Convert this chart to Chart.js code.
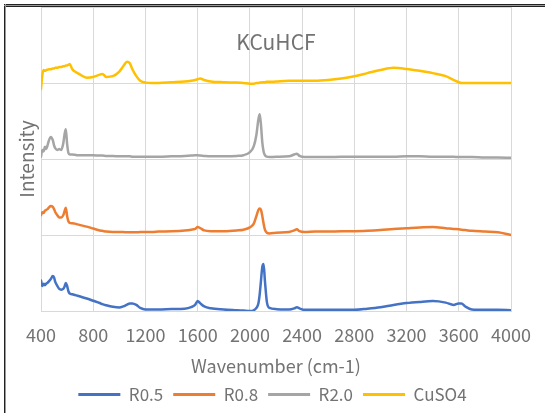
<!DOCTYPE html>
<html>
<head>
<meta charset="utf-8">
<script src="https://cdn.jsdelivr.net/npm/chart.js@4.4.0/dist/chart.umd.min.js"></script>
<style>
  html, body { margin: 0; padding: 0; background: #fff; }
  #wrap { width: 545px; height: 413px; position: relative; }
</style>
</head>
<body>
<div id="wrap"><canvas id="chart" width="545" height="413"></canvas></div>
<script>
// Raman shift grid (cm-1) shared by all spectra
const wavenumbers = [400, 410, 420, 430, 440, 450, 460, 475, 490, 500, 510, 525, 540, 555, 570, 580, 590, 600, 610, 620,
  640, 660, 680, 700, 750, 800, 850, 870, 900, 950, 1000, 1030, 1060, 1080, 1100, 1130, 1160, 1200, 1250, 1300,
  1400, 1500, 1550, 1580, 1600, 1620, 1650, 1700, 1800, 1900, 1950, 2000, 2030, 2050, 2065, 2075, 2085, 2095, 2105, 2115,
  2130, 2150, 2200, 2300, 2340, 2360, 2380, 2420, 2500, 2600, 2700, 2800, 2900, 3000, 3100, 3200, 3300, 3400, 3500, 3560,
  3600, 3620, 3650, 3700, 3800, 3900, 4000];

// Relative intensities of each sample
const r05 = [0.40, 0.33, 0.36, 0.34, 0.36, 0.37, 0.39, 0.42, 0.46, 0.44, 0.38, 0.33, 0.29, 0.28, 0.29, 0.32, 0.37, 0.33, 0.26, 0.23,
  0.22, 0.21, 0.20, 0.19, 0.165, 0.135, 0.105, 0.09, 0.075, 0.055, 0.045, 0.06, 0.085, 0.10, 0.10, 0.08, 0.04, 0.02, 0.02, 0.02,
  0.025, 0.03, 0.05, 0.08, 0.13, 0.10, 0.06, 0.035, 0.02, 0.01, 0.005, 0.0, 0.01, 0.04, 0.10, 0.22, 0.40, 0.58, 0.62, 0.40,
  0.12, 0.04, 0.025, 0.02, 0.035, 0.05, 0.035, 0.015, 0.015, 0.015, 0.015, 0.015, 0.03, 0.05, 0.08, 0.105, 0.12, 0.13, 0.11, 0.08,
  0.10, 0.10, 0.06, 0.02, 0.015, 0.015, 0.01];

const r08 = [0.26, 0.30, 0.29, 0.32, 0.33, 0.34, 0.36, 0.38, 0.37, 0.34, 0.30, 0.26, 0.23, 0.23, 0.26, 0.31, 0.36, 0.25, 0.18, 0.16,
  0.155, 0.15, 0.14, 0.13, 0.11, 0.085, 0.06, 0.055, 0.045, 0.04, 0.04, 0.04, 0.035, 0.035, 0.035, 0.035, 0.04, 0.04, 0.04, 0.045,
  0.05, 0.06, 0.07, 0.08, 0.105, 0.09, 0.06, 0.05, 0.05, 0.06, 0.07, 0.10, 0.15, 0.25, 0.33, 0.35, 0.33, 0.25, 0.15, 0.07,
  0.03, 0.02, 0.03, 0.04, 0.06, 0.075, 0.05, 0.04, 0.045, 0.045, 0.05, 0.05, 0.055, 0.065, 0.08, 0.09, 0.10, 0.105, 0.09, 0.08,
  0.075, 0.07, 0.065, 0.055, 0.045, 0.035, 0.0];

const r20 = [0.03, 0.12, 0.10, 0.16, 0.13, 0.18, 0.24, 0.29, 0.25, 0.18, 0.14, 0.12, 0.13, 0.12, 0.20, 0.32, 0.39, 0.20, 0.08, 0.06,
  0.06, 0.055, 0.05, 0.05, 0.05, 0.05, 0.045, 0.045, 0.04, 0.04, 0.035, 0.035, 0.035, 0.035, 0.03, 0.03, 0.03, 0.03, 0.03, 0.03,
  0.035, 0.04, 0.045, 0.05, 0.05, 0.045, 0.04, 0.035, 0.035, 0.04, 0.05, 0.09, 0.17, 0.32, 0.52, 0.59, 0.45, 0.22, 0.10, 0.05,
  0.03, 0.025, 0.03, 0.035, 0.06, 0.07, 0.04, 0.025, 0.025, 0.025, 0.03, 0.03, 0.03, 0.03, 0.03, 0.035, 0.035, 0.03, 0.03, 0.03,
  0.025, 0.025, 0.025, 0.025, 0.02, 0.02, 0.015];

const cuso4 = [-0.08, 0.10, 0.17, 0.16, 0.17, 0.175, 0.18, 0.18, 0.19, 0.19, 0.20, 0.20, 0.21, 0.21, 0.22, 0.22, 0.23, 0.23, 0.24, 0.25,
  0.18, 0.15, 0.13, 0.11, 0.07, 0.08, 0.11, 0.12, 0.08, 0.09, 0.15, 0.22, 0.28, 0.26, 0.18, 0.09, 0.03, 0.005, 0.0, 0.0,
  0.01, 0.02, 0.03, 0.04, 0.05, 0.06, 0.04, 0.02, 0.01, 0.005, 0.0, -0.01, -0.01, 0.0, 0.0, 0.005, 0.005, 0.01, 0.01, 0.01,
  0.015, 0.015, 0.02, 0.03, 0.03, 0.03, 0.03, 0.03, 0.03, 0.04, 0.06, 0.09, 0.13, 0.17, 0.20, 0.185, 0.16, 0.13, 0.09, 0.04,
  0.01, 0.0, 0.0, 0.0, 0.0, 0.0, 0.0];

const seriesNames = ['R0.5', 'R0.8', 'R2.0', 'CuSO4'];
const seriesValues = [r05, r08, r20, cuso4];
// vertical stacking offset of each spectrum
const stackOffsets = [0, 1, 2, 3];
const seriesColors = ['#4472C4', '#ED7D31', '#A5A5A5', '#FFC000'];
const xTicks = [400, 800, 1200, 1600, 2000, 2400, 2800, 3200, 3600, 4000];

const FONT = "'Noto Sans CJK JP', 'Noto Sans', sans-serif";
const TEXT = '#737373';

const datasets = seriesNames.map((name, k) => ({
  label: name,
  data: wavenumbers.map((w, i) => ({ x: w, y: seriesValues[k][i] + stackOffsets[k] })),
  borderColor: seriesColors[k],
  backgroundColor: seriesColors[k],
  borderWidth: 2.5,
  pointRadius: 0,
  cubicInterpolationMode: 'monotone',
  borderJoinStyle: 'round',
  borderCapStyle: 'round'
}));

// Chart title drawn inside the plot area, plus the outer frame lines
const decorations = {
  id: 'decorations',
  afterDraw(chart) {
    const { ctx, chartArea } = chart;
    ctx.save();
    ctx.font = "21px " + FONT;
    ctx.fillStyle = TEXT;
    ctx.textAlign = 'center';
    ctx.textBaseline = 'middle';
    ctx.fillText('KCuHCF', (chartArea.left + chartArea.right) / 2, 42);
    // frame
    ctx.fillStyle = '#222';
    ctx.fillRect(4, 4, 541, 1);
    ctx.fillRect(4, 6, 541, 1);
    ctx.fillRect(4, 4, 1, 409);
    ctx.fillStyle = '#999';
    ctx.fillRect(4, 5, 541, 1);
    ctx.fillRect(5, 4, 1, 409);
    ctx.restore();
  }
};

const bg = {
  id: 'bg',
  beforeDraw(chart) {
    const { ctx } = chart;
    ctx.save();
    ctx.fillStyle = '#fff';
    ctx.fillRect(0, 0, chart.width, chart.height);
    ctx.restore();
  }
};

new Chart(document.getElementById('chart'), {
  type: 'line',
  data: { datasets },
  plugins: [bg, decorations],
  options: {
    responsive: false,
    animation: false,
    devicePixelRatio: 1,
    layout: { padding: { left: 0, right: 0, top: 7, bottom: 0 } },
    plugins: {
      title: { display: false },
      tooltip: { enabled: false },
      legend: {
        position: 'bottom',
        labels: {
          font: { family: FONT, size: 17 },
          color: TEXT,
          boxWidth: 42,
          boxHeight: 3,
          padding: 10,
          generateLabels(chart) {
            return chart.data.datasets.map((ds, i) => ({
              text: ds.label,
              fillStyle: ds.borderColor,
              strokeStyle: ds.borderColor,
              lineWidth: 0,
              fontColor: TEXT,
              hidden: false,
              datasetIndex: i
            }));
          }
        }
      }
    },
    scales: {
      x: {
        type: 'linear',
        min: 400,
        max: 4000,
        afterBuildTicks(scale) { scale.ticks = xTicks.map(v => ({ value: v })); },
        afterFit(scale) { scale.height = 65; },
        grid: { color: '#d9d9d9', lineWidth: 1, drawTicks: false },
        border: { color: '#d9d9d9' },
        ticks: {
          font: { family: FONT, size: 18 }, color: TEXT, padding: 13, maxRotation: 0, autoSkip: false,
          callback: v => String(v)
        },
        title: { display: true, text: 'Wavenumber (cm-1)', font: { family: FONT, size: 18 }, color: TEXT, padding: { top: 0, bottom: -1 } }
      },
      y: {
        min: 0,
        max: 4,
        ticks: { display: false, stepSize: 1 },
        grid: { color: '#d9d9d9', lineWidth: 1, drawTicks: false },
        border: { display: false },
        title: { display: true, text: 'Intensity', font: { family: FONT, size: 19 }, color: TEXT, padding: { top: 15, bottom: 0 } },
        afterFit(scale) { scale.width = 41; }
      },
      y2: {
        position: 'right',
        display: true,
        grid: { display: false },
        border: { display: false },
        ticks: { display: false },
        afterFit(scale) { scale.width = 34; }
      }
    }
  }
});
</script>
</body>
</html>
